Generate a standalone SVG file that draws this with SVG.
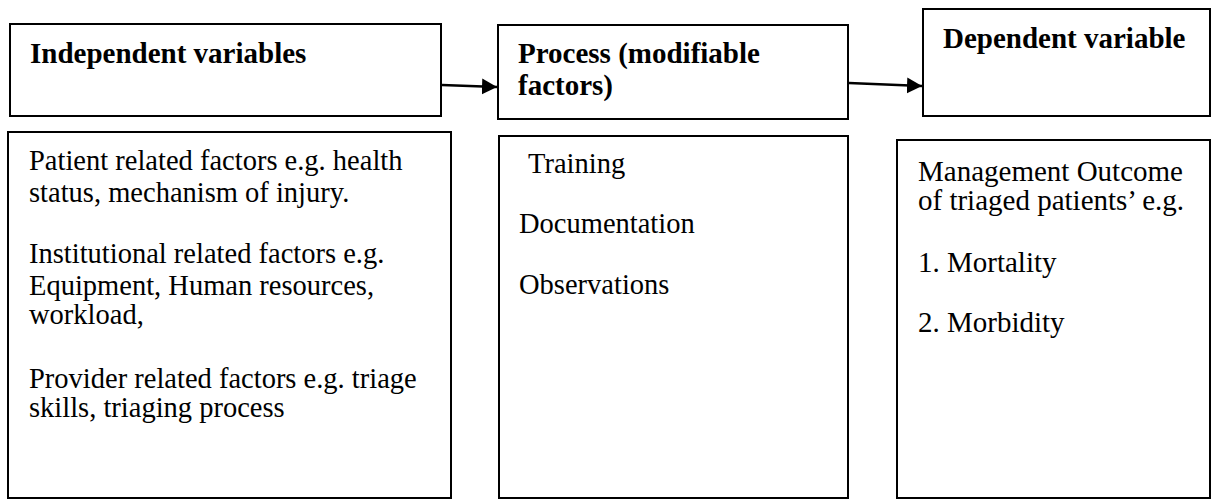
<svg xmlns="http://www.w3.org/2000/svg" width="1211" height="500" viewBox="0 0 1211 500">
<style>
.box{fill:#fff;stroke:#000;stroke-width:2}
.h{font-family:"Liberation Serif","Times New Roman",serif;font-size:29px;font-weight:bold;fill:#000}
.t{font-family:"Liberation Serif","Times New Roman",serif;font-size:28.5px;fill:#000}
.r{font-family:"Liberation Serif","Times New Roman",serif;font-size:29px;fill:#000}
.c{stroke:#000;stroke-width:2.5;fill:none}
</style>
<defs>
<marker id="ah" markerUnits="userSpaceOnUse" markerWidth="16" markerHeight="18" refX="15" refY="8" orient="auto">
<path d="M0,0 L15,8 L0,16 Z" fill="#000"/>
</marker>
</defs>
<rect width="1211" height="500" fill="#fff"/>
<g id="independent-header">
<rect class="box" x="10" y="24" width="431" height="92"/>
<text class="h" x="30" y="63">Independent variables</text>
</g>
<g id="process-header">
<rect class="box" x="498" y="25" width="350" height="94"/>
<text class="h" x="518" y="63">Process (modifiable</text>
<text class="h" x="518" y="95">factors)</text>
</g>
<g id="dependent-header">
<rect class="box" x="923" y="9" width="287" height="107"/>
<text class="h" x="943" y="48">Dependent variable</text>
</g>
<g id="independent-body">
<rect class="box" x="8" y="132" width="443" height="366"/>
<text class="t" x="29" y="170">Patient related factors e.g. health</text>
<text class="t" x="29" y="202">status, mechanism of injury.</text>
<text class="t" x="29" y="263">Institutional related factors e.g.</text>
<text class="t" x="29" y="295">Equipment, Human resources,</text>
<text class="t" x="29" y="324">workload,</text>
<text class="t" x="29" y="388">Provider related factors e.g. triage</text>
<text class="t" x="29" y="417">skills, triaging process</text>
</g>
<g id="process-body">
<rect class="box" x="499" y="136" width="349" height="362"/>
<text class="t" x="528" y="173">Training</text>
<text class="t" x="519" y="233">Documentation</text>
<text class="t" x="519" y="294">Observations</text>
</g>
<g id="dependent-body">
<rect class="box" x="897" y="140" width="313" height="358"/>
<text class="r" x="918" y="181">Management Outcome</text>
<text class="r" x="918" y="210">of triaged patients’ e.g.</text>
<text class="r" x="918" y="272">1. Mortality</text>
<text class="r" x="918" y="332">2. Morbidity</text>
</g>
<g id="connectors">
<line class="c" x1="442" y1="85" x2="497" y2="87" marker-end="url(#ah)"/>
<line class="c" x1="849" y1="83" x2="922" y2="86" marker-end="url(#ah)"/>
</g>
</svg>
